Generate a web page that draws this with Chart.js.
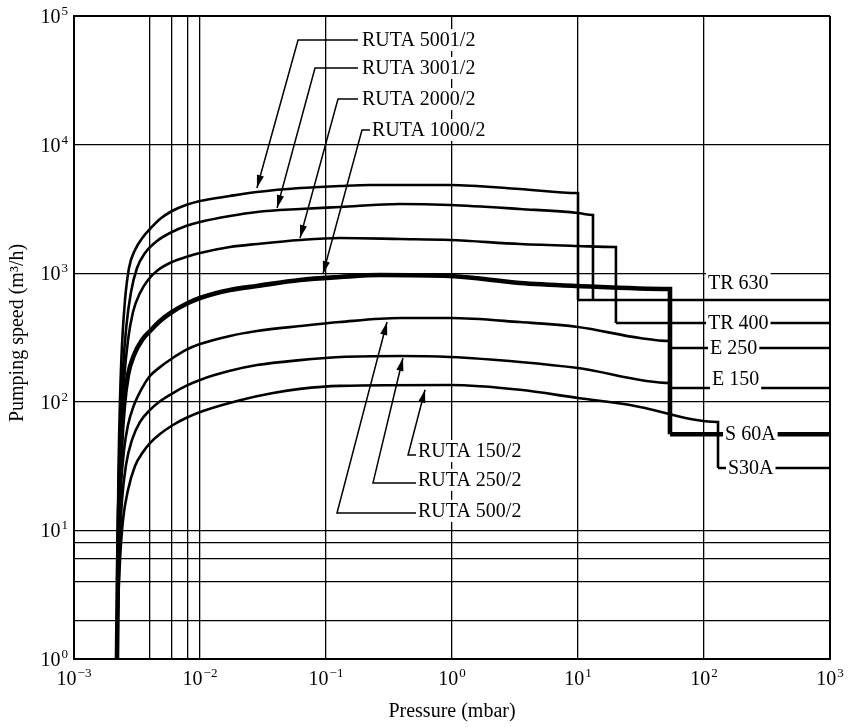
<!DOCTYPE html>
<html>
<head>
<meta charset="utf-8">
<script src="https://cdn.jsdelivr.net/npm/chart.js@4/dist/chart.umd.min.js"></script>
<style>
  html, body { margin: 0; padding: 0; background: #fff; }
  #wrap { width: 850px; height: 727px; }
</style>
</head>
<body>
<div id="wrap"><canvas id="chart" width="850" height="727"></canvas></div>
<script>
// pressure in mbar, pumping speed in m3/h
const xTickExps = [-3, -2, -1, 0, 1, 2, 3];
const yTickExps = [0, 1, 2, 3, 4, 5];
const xGrid = [1e-3, 4e-3, 6e-3, 8e-3, 1e-2, 1e-1, 1, 10, 100, 1000];
const yGrid = [1, 2, 4, 6, 8, 10, 100, 1000, 1e4, 1e5];

// Roots pump + backing pump combinations
const ruta5001P = [0.002194, 0.002214, 0.002255, 0.002318, 0.002404, 0.00254, 0.002732, 0.003049, 0.00353, 0.004011, 0.004814, 0.005995, 0.007743, 0.01, 0.0173, 0.02834, 0.06218, 0.1292, 0.2235, 0.964, 3.465, 10, 10];
const ruta5001S = [1, 5.9, 29.5, 103, 276, 619, 1098, 1515, 1912, 2207, 2639, 3046, 3391, 3642, 3985, 4280, 4598, 4766, 4852, 4852, 4515, 4204, 619];

const ruta3001P = [0.002194, 0.002219, 0.002268, 0.002339, 0.002449, 0.00261, 0.002834, 0.003162, 0.003661, 0.004558, 0.005995, 0.007743, 0.01, 0.0173, 0.02834, 0.06218, 0.1292, 0.3867, 0.964, 3.465, 10, 13.15, 13.15];
const ruta3001S = [1, 5.9, 24.7, 72, 183, 396, 714, 1098, 1436, 1780, 2092, 2328, 2501, 2785, 2992, 3156, 3272, 3452, 3391, 3156, 2939, 2835, 619];

const ruta2000P = [0.002194, 0.002223, 0.002276, 0.002361, 0.002494, 0.002683, 0.002939, 0.003342, 0.003867, 0.004642, 0.005995, 0.007743, 0.01, 0.0173, 0.02834, 0.06218, 0.1292, 0.3867, 0.964, 3.465, 10, 20, 20];
const ruta2000S = [1, 4.9, 20.6, 60.4, 148, 302, 499, 702, 886, 1059, 1222, 1337, 1436, 1598, 1687, 1812, 1878, 1845, 1812, 1687, 1627, 1598, 410];

const ruta1000P = [0.002194, 0.002227, 0.002276, 0.002361, 0.002494, 0.002683, 0.002994, 0.003466, 0.004011, 0.004814, 0.005995, 0.007743, 0.01, 0.0173, 0.02834, 0.06218, 0.1292, 0.2683, 0.964, 3.465, 10, 53.7, 53.7];
const ruta1000S = [1, 4.1, 14.4, 42.2, 94.4, 162, 231, 302, 355, 425, 499, 576, 641, 740, 795, 886, 934, 968, 951, 839, 795, 754, 56];

const ruta500P = [0.002194, 0.002227, 0.002276, 0.002361, 0.002494, 0.002683, 0.002994, 0.003466, 0.004011, 0.004814, 0.005995, 0.007743, 0.01, 0.0173, 0.02834, 0.06218, 0.1292, 0.3867, 0.964, 3.465, 10, 31.05, 53.7, 53.7];
const ruta500S = [1, 3.4, 10.1, 22.5, 42.2, 66, 94.4, 128, 159, 186, 217, 253, 281, 325, 355, 388, 417, 448, 448, 417, 382, 313, 297, 262];

const ruta250P = [0.002194, 0.002231, 0.002297, 0.002404, 0.002587, 0.002886, 0.003342, 0.004011, 0.004814, 0.006105, 0.007743, 0.01, 0.0173, 0.02834, 0.06218, 0.1292, 0.3867, 0.964, 3.465, 10, 53.7, 53.7];
const ruta250S = [1, 2.9, 7.7, 17.2, 32.3, 50.5, 69.7, 86.4, 101, 117, 133, 148, 174, 193, 211, 223, 227, 223, 204, 183, 140, 128];

const ruta150P = [0.002194, 0.002235, 0.002318, 0.002449, 0.002683, 0.003049, 0.00353, 0.004011, 0.004814, 0.006105, 0.007743, 0.01056, 0.02078, 0.03797, 0.06218, 0.1292, 0.964, 3.465, 10, 25.86, 129.2, 129.2];
const ruta150S = [1, 2.4, 5.9, 12.1, 20.6, 31.7, 40.7, 47.8, 56.2, 66, 74.8, 84.8, 103, 117, 126, 133, 135, 124, 107, 94.4, 69.7, 30.6];

// backing pumps alone
const tr630P = [10, 1000], tr630S = [619, 619];
const tr400P = [20, 1000], tr400S = [410, 410];
const e250P = [53.7, 1000], e250S = [262, 262];
const e150P = [53.7, 1000], e150S = [128, 128];
const s60aP = [53.7, 1000], s60aS = [56, 56];
const s30aP = [129.2, 1000], s30aS = [30.6, 30.6];

const FONT = '"Liberation Serif", "Times New Roman", serif';

// arrow notes: text anchor (left, middle), leader path ending at the arrow tip
const arrowNotes = [
  { text: 'RUTA 5001/2', at: [0.193, 65000], path: [[0.1794, 65000], [0.06, 65000], [0.0283, 4600]] },
  { text: 'RUTA 3001/2', at: [0.193, 39400], path: [[0.1794, 39400], [0.0818, 39400], [0.0409, 3214]] },
  { text: 'RUTA 2000/2', at: [0.193, 22620], path: [[0.1794, 22620], [0.1245, 22620], [0.0622, 1878]] },
  { text: 'RUTA 1000/2', at: [0.2317, 12990], path: [[0.2235, 12990], [0.193, 12990], [0.0946, 986]] },
  { text: 'RUTA 150/2', at: [0.537, 41.4], path: [[0.527, 38.6], [0.4477, 38.6], [0.611, 124]] },
  { text: 'RUTA 250/2', at: [0.537, 24.7], path: [[0.527, 23.4], [0.236, 23.4], [0.408, 219]] },
  { text: 'RUTA 500/2', at: [0.537, 14.2], path: [[0.527, 13.65], [0.1223, 13.65], [0.305, 417]] }
];

const pumpNotes = [
  { text: 'TR 630', at: [107.6, 839] },
  { text: 'TR 400', at: [107.6, 410] },
  { text: 'E 250', at: [111.7, 262] },
  { text: 'E 150', at: [115.7, 150] },
  { text: 'S 60A', at: [146.9, 56] },
  { text: 'S30A', at: [154.9, 30.6] }
];

function series(P, S, width) {
  return {
    data: P.map((p, i) => ({ x: p, y: S[i] })),
    borderColor: '#000',
    borderWidth: width,
    pointRadius: 0,
    fill: false,
    cubicInterpolationMode: 'monotone',
    borderJoinStyle: 'miter',
    borderCapStyle: 'butt'
  };
}

function straight(P, S, width) {
  const d = series(P, S, width);
  d.cubicInterpolationMode = 'default';
  d.tension = 0;
  return d;
}

function powLabel(ctx, exp, x, y, align) {
  const expText = exp < 0 ? '\u2212' + Math.abs(exp) : String(exp);
  ctx.font = '20px ' + FONT;
  const wBase = ctx.measureText('10').width;
  ctx.font = '13px ' + FONT;
  const wExp = ctx.measureText(expText).width;
  const total = wBase + wExp + 1;
  const left = align === 'center' ? x - total / 2 : x - total;
  ctx.textAlign = 'left';
  ctx.textBaseline = 'alphabetic';
  ctx.font = '20px ' + FONT;
  ctx.fillText('10', left, y);
  ctx.font = '13px ' + FONT;
  ctx.fillText(expText, left + wBase + 1, y - 8);
}

function noteText(ctx, text, px, py) {
  ctx.font = '20px ' + FONT;
  const w = ctx.measureText(text).width;
  ctx.fillStyle = '#fff';
  ctx.fillRect(px - 2, py - 11, w + 4, 22);
  ctx.fillStyle = '#000';
  ctx.textAlign = 'left';
  ctx.textBaseline = 'middle';
  ctx.fillText(text, px, py + 1);
}

const annotate = {
  id: 'annotate',
  afterDatasetsDraw(chart) {
    const { ctx, scales: { x, y } } = chart;
    ctx.save();
    ctx.strokeStyle = '#000';
    ctx.fillStyle = '#000';
    ctx.lineWidth = 1.5;

    arrowNotes.forEach(n => {
      const pts = n.path.map(([a, b]) => [x.getPixelForValue(a), y.getPixelForValue(b)]);
      ctx.beginPath();
      ctx.moveTo(pts[0][0], pts[0][1]);
      pts.slice(1).forEach(p => ctx.lineTo(p[0], p[1]));
      ctx.stroke();
      const [tx, ty] = pts[pts.length - 1];
      const [fx, fy] = pts[pts.length - 2];
      const ang = Math.atan2(ty - fy, tx - fx);
      const len = 13, half = 3.6;
      ctx.beginPath();
      ctx.moveTo(tx, ty);
      ctx.lineTo(tx - len * Math.cos(ang) + half * Math.sin(ang), ty - len * Math.sin(ang) - half * Math.cos(ang));
      ctx.lineTo(tx - len * Math.cos(ang) - half * Math.sin(ang), ty - len * Math.sin(ang) + half * Math.cos(ang));
      ctx.closePath();
      ctx.fill();
    });

    arrowNotes.forEach(n => noteText(ctx, n.text, x.getPixelForValue(n.at[0]), y.getPixelForValue(n.at[1])));
    pumpNotes.forEach(n => noteText(ctx, n.text, x.getPixelForValue(n.at[0]), y.getPixelForValue(n.at[1])));
    ctx.restore();
  },
  afterDraw(chart) {
    const { ctx, chartArea, scales: { x, y } } = chart;
    ctx.save();
    ctx.fillStyle = '#000';
    xTickExps.forEach(e => powLabel(ctx, e, x.getPixelForValue(Math.pow(10, e)), chartArea.bottom + 26, 'center'));
    yTickExps.forEach(e => powLabel(ctx, e, chartArea.left - 6, y.getPixelForValue(Math.pow(10, e)) + 7, 'right'));

    ctx.font = '20px ' + FONT;
    ctx.textAlign = 'center';
    ctx.textBaseline = 'middle';
    ctx.fillText('Pressure (mbar)', (chartArea.left + chartArea.right) / 2, 712);
    ctx.translate(18, 333);
    ctx.rotate(-Math.PI / 2);
    ctx.fillText('Pumping speed (m\u00B3/h)', 0, 0);
    ctx.restore();
  }
};

const edgeWidth = (edges) => (c) => (c.tick && edges.includes(c.tick.value) ? 2 : 1.3);

new Chart(document.getElementById('chart'), {
  type: 'line',
  data: {
    datasets: [
      series(ruta5001P, ruta5001S, 2.6),
      series(ruta3001P, ruta3001S, 2.6),
      series(ruta2000P, ruta2000S, 2.6),
      series(ruta1000P, ruta1000S, 4.6),
      series(ruta500P, ruta500S, 2.6),
      series(ruta250P, ruta250S, 2.6),
      series(ruta150P, ruta150S, 2.6),
      straight(tr630P, tr630S, 2.4),
      straight(tr400P, tr400S, 2.4),
      straight(e250P, e250S, 2.4),
      straight(e150P, e150S, 2.4),
      straight(s60aP, s60aS, 4.6),
      straight(s30aP, s30aS, 2.4)
    ]
  },
  options: {
    responsive: false,
    animation: false,
    devicePixelRatio: 1,
    layout: { padding: { left: 74, right: 20, top: 16, bottom: 68 } },
    plugins: { legend: { display: false }, tooltip: { enabled: false } },
    scales: {
      x: {
        type: 'logarithmic',
        min: 1e-3,
        max: 1e3,
        afterBuildTicks: s => { s.ticks = xGrid.map(v => ({ value: v })); },
        ticks: { display: false },
        grid: { color: '#000', lineWidth: edgeWidth([1e-3, 1e3]), drawTicks: false },
        border: { display: true, color: '#000', width: 2 }
      },
      y: {
        type: 'logarithmic',
        min: 1,
        max: 1e5,
        afterBuildTicks: s => { s.ticks = yGrid.map(v => ({ value: v })); },
        ticks: { display: false },
        grid: { color: '#000', lineWidth: edgeWidth([1, 1e5]), drawTicks: false },
        border: { display: true, color: '#000', width: 2 }
      }
    }
  },
  plugins: [annotate]
});
</script>
</body>
</html>
